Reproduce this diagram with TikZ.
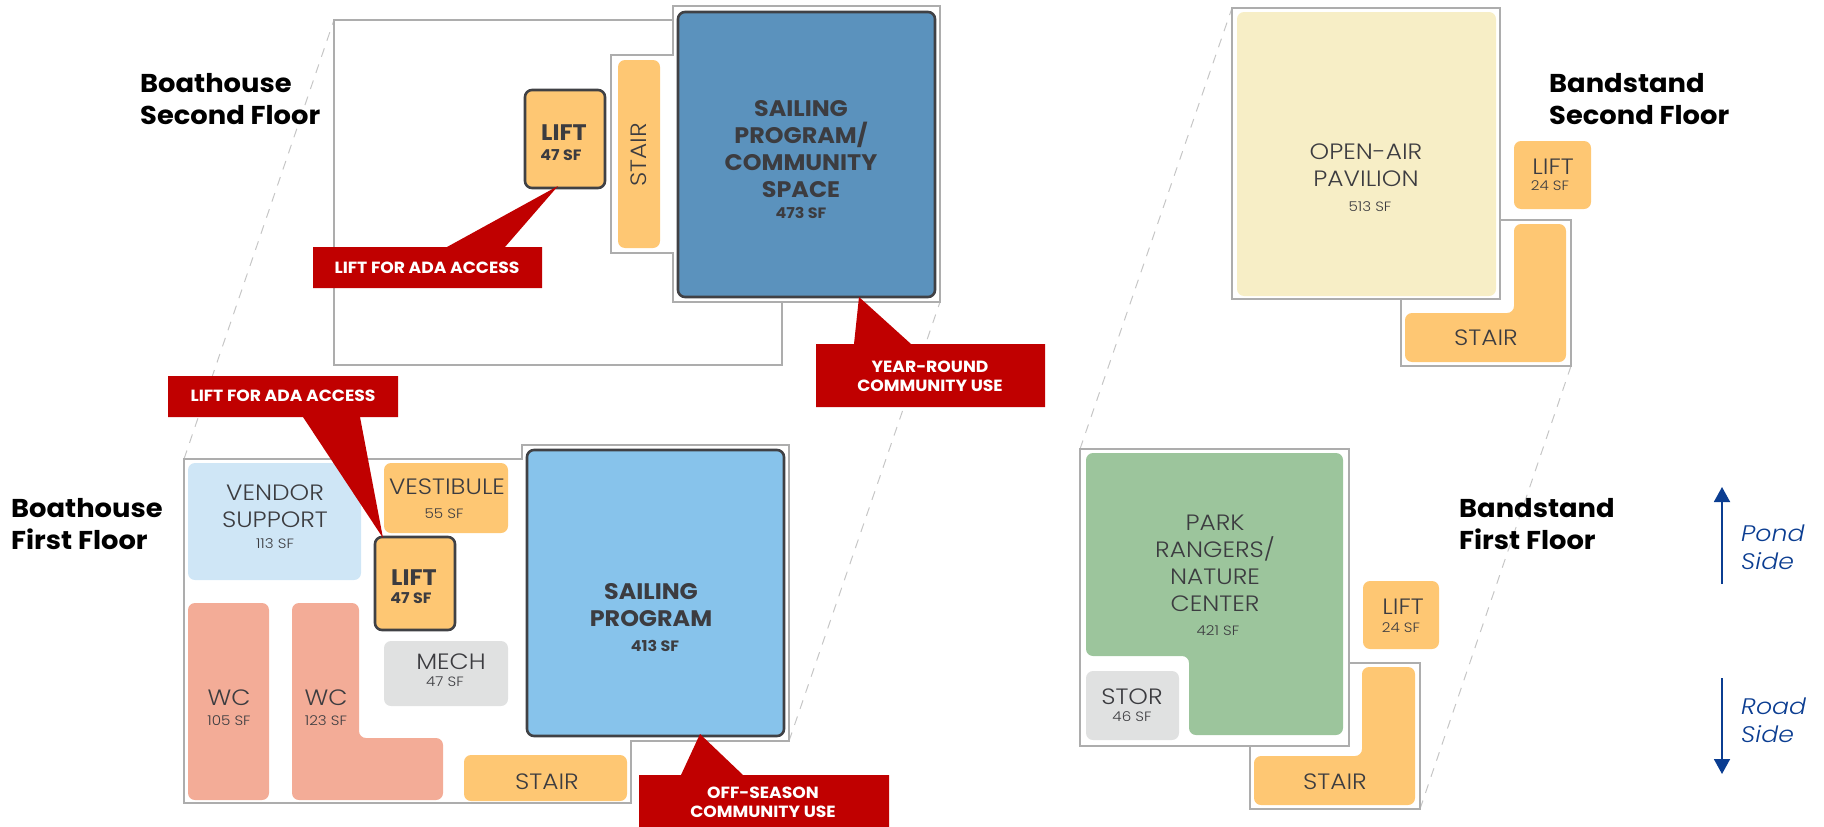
\documentclass[tikz,border=0pt]{standalone}
\usepackage{fontspec}
\setmainfont{Poppins}[FakeStretch=1.06]
\newfontfamily\lightfont{Poppins Light}[FakeStretch=1.12]
\usetikzlibrary{arrows.meta}
\definecolor{wall}{HTML}{ADADAD}
\definecolor{inktext}{HTML}{3C3C40}
\definecolor{edgedark}{HTML}{404145}
\definecolor{flagred}{HTML}{C00000}
\definecolor{liftorange}{HTML}{FEC773}
\definecolor{deckblue}{HTML}{5B92BD}
\definecolor{sailblue}{HTML}{87C3EB}
\definecolor{vendorblue}{HTML}{CFE6F6}
\definecolor{wcpink}{HTML}{F3AC97}
\definecolor{mechgrey}{HTML}{E0E1E1}
\definecolor{pavcream}{HTML}{F7EEC6}
\definecolor{parkgreen}{HTML}{9CC59C}
\definecolor{sidenavy}{HTML}{0B3D91}
\tikzset{
  outline/.style={draw=wall,line width=1.4pt},
  zoomline/.style={draw=wall!70,line width=1pt,dash pattern=on 9pt off 8pt},
  room/.style={rounded corners=7pt},
  keyroom/.style={rounded corners=7pt,draw=edgedark,line width=2.6pt},
  redflag/.style={fill=flagred},
  roomname/.style={text=inktext,align=center,inner sep=0pt,yshift=-1pt,font=\lightfont\fontsize{22.2}{27}\selectfont},
  roomarea/.style={text=inktext,inner sep=0pt,font=\lightfont\fontsize{13.5}{16}\selectfont},
  keyname/.style={text=inktext,align=center,inner sep=0pt,yshift=-1pt,font=\bfseries\fontsize{22.5}{27}\selectfont},
  keyarea/.style={text=inktext,inner sep=0pt,font=\bfseries\fontsize{15}{16}\selectfont},
  flagtext/.style={text=white,align=center,inner sep=0pt,font=\bfseries\fontsize{16.2}{19}\selectfont},
  floortitle/.style={anchor=west,align=left,inner sep=0pt,font=\bfseries\fontsize{25.8}{32}\selectfont},
  sideword/.style={anchor=west,align=left,inner sep=0pt,text=sidenavy,font=\lightfont\itshape\fontsize{22.5}{28}\selectfont},
  sidearrow/.style={draw=sidenavy,line width=1.8pt}
}
\begin{document}
\begin{tikzpicture}[x=1pt,y=-1pt]
  \useasboundingbox (0,0) rectangle (1824,827);
  \coordinate (bt2nw) at (334,20);
  \coordinate (bt2se) at (940,302);
  \coordinate (bt1nw) at (184,459);
  \coordinate (bt1se) at (789,741);
  \coordinate (bd2nw) at (1232,8);
  \coordinate (bd2se) at (1571,366);
  \coordinate (bd1nw) at (1080,449);
  \coordinate (bd1se) at (1420,809);
  \draw[zoomline] (bt1nw) to (bt2nw);
  \draw[zoomline] (bt1se) to (bt2se);
  \draw[zoomline] (bd1nw) to (bd2nw);
  \draw[zoomline] (bd1se) to (bd2se);

  \draw[outline] (bt2nw) -- (673,20) -- (673,6) -- (940,6) -- (bt2se) -- (782,302) -- (782,365) -- (334,365) -- cycle;
  \draw[outline] (673,20) -- (673,55) -- (611,55) -- (611,253) -- (673,253) -- (673,302) -- (782,302);
  \draw[outline] (bt1nw) -- (522,459) -- (522,445) -- (789,445) -- (bt1se) -- (631,741) -- (631,803) -- (184,803) -- cycle;
  \draw[outline] (bd2nw) rectangle (1500,299);
  \draw[outline] (1500,220) -- (1571,220) -- (bd2se) -- (1401,366) -- (1401,299);
  \draw[outline] (bd1nw) rectangle (1349,746);
  \draw[outline] (1349,663) -- (1420,663) -- (bd1se) -- (1250,809) -- (1250,746);

  \draw[keyroom,fill=deckblue] (678,12) rectangle (935,297);
  \draw[keyroom,fill=liftorange] (525,90) rectangle (605,188);
  \fill[room,liftorange] (618,60) rectangle (660,248);
  \draw[keyroom,fill=sailblue] (527,450) rectangle (784,736);
  \fill[room,vendorblue] (188,463) rectangle (361,580);
  \fill[room,liftorange] (384,463) rectangle (508,533);
  \draw[keyroom,fill=liftorange] (375,537) rectangle (455,630);
  \fill[room,mechgrey] (384,641) rectangle (508,706);
  \fill[room,wcpink] (188,603) rectangle (269,800);
  \fill[room,wcpink] (292,603) -- (359,603) -- (359,738) -- (443,738) -- (443,800) -- (292,800) -- cycle;
  \fill[room,liftorange] (464,755) rectangle (627,801);
  \fill[room,pavcream] (1237,12) rectangle (1496,296);
  \fill[room,liftorange] (1514,141) rectangle (1591,209);
  \fill[room,liftorange] (1514,224) -- (1566,224) -- (1566,362) -- (1405,362) -- (1405,313) -- (1514,313) -- cycle;
  \fill[room,parkgreen] (1086,453) -- (1343,453) -- (1343,735) -- (1189,735) -- (1189,656) -- (1086,656) -- cycle;
  \fill[room,mechgrey] (1086,671) rectangle (1179,740);
  \fill[room,liftorange] (1363,581) rectangle (1439,649);
  \fill[room,liftorange] (1362,667) -- (1415,667) -- (1415,805) -- (1254,805) -- (1254,756) -- (1362,756) -- cycle;

  \fill[redflag] (313,247) -- (447,247) -- (558,186) -- (505,247) -- (542,247) -- (542,288) -- (313,288) -- cycle;
  \fill[redflag] (816,344) -- (854,344) -- (859,297) -- (911,344) -- (1045,344) -- (1045,407) -- (816,407) -- cycle;
  \fill[redflag] (168,376) -- (398,376) -- (398,417) -- (360,417) -- (383,538) -- (303,417) -- (168,417) -- cycle;
  \fill[redflag] (639,775) -- (681,775) -- (700,734) -- (743,775) -- (889,775) -- (889,827) -- (639,827) -- cycle;

  \node[floortitle] (bt2title) at (140,99) {Boathouse\\Second Floor};
  \node[floortitle] (bt1title) at (11,524) {Boathouse\\First Floor};
  \node[floortitle] (bd2title) at (1549,99) {Bandstand\\Second Floor};
  \node[floortitle] (bd1title) at (1459,524) {Bandstand\\First Floor};

  \node[keyname] (deckname) at (801,148) {SAILING\\PROGRAM/\\COMMUNITY\\SPACE};
  \node[keyarea] (deckarea) at (801,213) {473 SF};
  \node[keyname] (lift2name) at (564,132) {LIFT};
  \node[keyarea] (lift2area) at (561,155) {47 SF};
  \node[roomname,rotate=90] (stair2name) at (639,154) {STAIR};
  \node[keyname] (sailname) at (651,604) {SAILING\\PROGRAM};
  \node[keyarea] (sailarea) at (655,646) {413 SF};
  \node[roomname] (vendorname) at (275,505) {VENDOR\\SUPPORT};
  \node[roomarea] (vendorarea) at (275,544) {113 SF};
  \node[roomname] (vestname) at (447,486) {VESTIBULE};
  \node[roomarea] (vestarea) at (444,514) {55 SF};
  \node[keyname] (lift1name) at (414,577) {LIFT};
  \node[keyarea] (lift1area) at (411,598) {47 SF};
  \node[roomname] (mechname) at (451,661) {MECH};
  \node[roomarea] (mecharea) at (445,682) {47 SF};
  \node[roomname] (wcaname) at (229,697) {WC};
  \node[roomarea] (wcaarea) at (229,721) {105 SF};
  \node[roomname] (wcbname) at (326,697) {WC};
  \node[roomarea] (wcbarea) at (326,721) {123 SF};
  \node[roomname] (stair1name) at (547,781) {STAIR};
  \node[roomname] (pavname) at (1366,164) {OPEN-AIR\\PAVILION};
  \node[roomarea] (pavarea) at (1370,207) {513 SF};
  \node[roomname] (bl2name) at (1553,166) {LIFT};
  \node[roomarea] (bl2area) at (1550,186) {24 SF};
  \node[roomname] (bs2name) at (1486,337) {STAIR};
  \node[roomname] (parkname) at (1215,562) {PARK\\RANGERS/\\NATURE\\CENTER};
  \node[roomarea] (parkarea) at (1218,631) {421 SF};
  \node[roomname] (storname) at (1132,696) {STOR};
  \node[roomarea] (storarea) at (1132,717) {46 SF};
  \node[roomname] (bl1name) at (1403,606) {LIFT};
  \node[roomarea] (bl1area) at (1401,628) {24 SF};
  \node[roomname] (bs1name) at (1335,781) {STAIR};

  \node[flagtext] (flag2lift) at (427,268) {LIFT FOR ADA ACCESS};
  \node[flagtext] (flag2deck) at (930,376) {YEAR-ROUND\\COMMUNITY USE};
  \node[flagtext] (flag1lift) at (283,396) {LIFT FOR ADA ACCESS};
  \node[flagtext] (flag1sail) at (763,802) {OFF-SEASON\\COMMUNITY USE};

  \coordinate (pondfoot) at (1722,584);
  \coordinate (pondtip) at (1722,487);
  \coordinate (roadfoot) at (1722,678);
  \coordinate (roadtip) at (1722,774);
  \draw[sidearrow,-{Triangle[length=15pt,width=16pt]}] (pondfoot) to (pondtip);
  \draw[sidearrow,-{Triangle[length=15pt,width=16pt]}] (roadfoot) to (roadtip);
  \node[sideword] (pondword) at (1741,547) {Pond\\Side};
  \node[sideword] (roadword) at (1741,720) {Road\\Side};
\end{tikzpicture}
\end{document}
